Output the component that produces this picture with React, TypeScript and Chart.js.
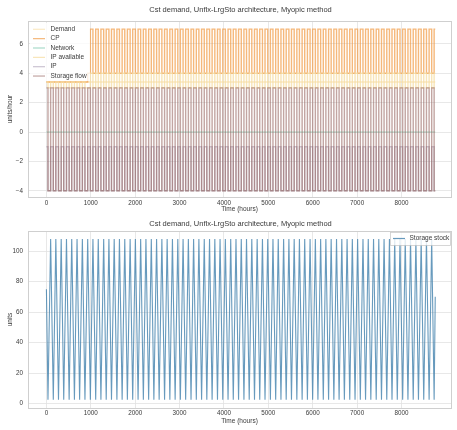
import { useEffect, useRef } from "react";
import { Chart, registerables } from "chart.js";

Chart.register(...registerables);

// ---------------- data ----------------
const chartTitle = "Cst demand, Unflx-LrgSto architecture, Myopic method";
const xTickValues = [0, 1000, 2000, 3000, 4000, 5000, 6000, 7000, 8000];
const topYTicks = [-4, -2, 0, 2, 4, 6];
const bottomYTicks = [0, 20, 40, 60, 80, 100];

// hours at which the storage switches between discharging and charging
const turnHours = [
  0, 35, 95, 155, 212, 272, 333, 390, 452, 512, 570, 631, 690, 748, 810, 868, 930, 990, 1048, 1110,
  1168, 1228, 1290, 1347, 1408, 1466, 1527, 1588, 1645, 1706, 1765, 1824, 1886, 1944, 2004, 2065,
  2123, 2184, 2242, 2303, 2363, 2421, 2482, 2540, 2601, 2662, 2720, 2781, 2839, 2900, 2960, 3018,
  3079, 3137, 3198, 3258, 3316, 3377, 3435, 3496, 3556, 3614, 3675, 3733, 3794, 3854, 3912, 3973,
  4031, 4092, 4152, 4210, 4271, 4329, 4390, 4450, 4508, 4569, 4627, 4688, 4748, 4806, 4867, 4925,
  4986, 5046, 5104, 5165, 5223, 5284, 5344, 5402, 5463, 5521, 5582, 5642, 5700, 5761, 5819, 5880,
  5940, 5998, 6059, 6117, 6178, 6238, 6296, 6357, 6415, 6476, 6536, 6594, 6655, 6713, 6774, 6834,
  6892, 6953, 7011, 7072, 7132, 7190, 7251, 7309, 7370, 7430, 7488, 7549, 7607, 7668, 7728, 7786,
  7847, 7905, 7966, 8026, 8084, 8145, 8203, 8264, 8324, 8382, 8443, 8501, 8562, 8622, 8680, 8735,
  8760,
];

// storage stock (units)
const stockStart = 75;
const stockLow = 2.5;
const stockHigh = 108;
const stockEnd = 70;

// flows (units/hour): [discharging level, charging level]
const cpStartHour = 950;
const demandLevel = 3.4;
const networkLevel = 0;
const cpEarlyLevels = [3.4, 3.4];
const cpLevels = [4, 7];
const ipAvailEarlyLevels = [3.4, 3];
const ipAvailLevels = [3, 4];
const ipLevels = [-1, -4];
const storageFlowLevels = [3, -4];

// ---------------- helpers ----------------
const FONT = "'Liberation Sans', Arial, Helvetica, sans-serif";
const TEXT = "#3a3a3a";
const GRID = "#e2e2e2";
const FRAME = "#cfcfcf";

const colors = {
  demand: "rgba(245, 215, 150, 0.55)",
  cp: "rgba(240, 150, 60, 0.68)",
  network: "rgba(110, 195, 165, 0.6)",
  ipAvail: "rgba(246, 220, 160, 0.75)",
  ip: "rgba(125, 105, 140, 0.4)",
  flow: "rgba(150, 100, 95, 0.58)",
  stock: "rgba(60, 125, 170, 0.78)",
};

function squareWave(levels: number[], early?: { until: number; levels: number[] }) {
  const pts: { x: number; y: number }[] = [];
  for (let i = 0; i < turnHours.length - 1; i++) {
    const a = turnHours[i];
    const b = turnHours[i + 1];
    const phase = i % 2; // 0 = discharging, 1 = charging
    const lv = early && b <= early.until ? early.levels : levels;
    pts.push({ x: a, y: lv[phase] }, { x: b, y: lv[phase] });
  }
  return pts;
}

function constantLine(v: number) {
  return [
    { x: turnHours[0], y: v },
    { x: turnHours[turnHours.length - 1], y: v },
  ];
}

function stockPoints() {
  return turnHours.map((h, i) => {
    let y: number;
    if (i === 0) y = stockStart;
    else if (i === turnHours.length - 1) y = stockEnd;
    else y = i % 2 === 1 ? stockLow : stockHigh;
    return { x: h, y };
  });
}

const minusFmt = (v: number) => (v < 0 ? "\u2212" + Math.abs(v) : String(v));

type LegendSpec = {
  x: number;
  y: number;
  w: number;
  h: number;
  rowY: number;
  rowStep: number;
  swatchX0: number;
  swatchX1: number;
  textX: number;
  border: boolean;
  items: { label: string; color: string }[];
};

function decorPlugin(titleY: number, legend: LegendSpec) {
  return {
    id: "decor",
    beforeDatasetsDraw(chart: any) {
      const { ctx, chartArea: a } = chart;
      ctx.save();
      ctx.strokeStyle = FRAME;
      ctx.lineWidth = 1;
      ctx.strokeRect(Math.round(a.left) + 0.5, Math.round(a.top) + 0.5, Math.round(a.right - a.left), Math.round(a.bottom - a.top));
      ctx.restore();
    },
    afterDraw(chart: any) {
      const { ctx, chartArea: a } = chart;
      ctx.save();
      ctx.fillStyle = TEXT;
      ctx.font = `7.5px ${FONT}`;
      ctx.textAlign = "center";
      ctx.textBaseline = "middle";
      ctx.fillText(chartTitle, (a.left + a.right) / 2 + 1, titleY);
      ctx.fillStyle = "rgba(255,255,255,0.8)";
      ctx.fillRect(legend.x, legend.y, legend.w, legend.h);
      if (legend.border) {
        ctx.strokeStyle = "rgba(200,200,200,0.9)";
        ctx.lineWidth = 0.8;
        ctx.strokeRect(legend.x + 0.5, legend.y + 0.5, legend.w, legend.h);
      }
      ctx.font = `6.5px ${FONT}`;
      ctx.textAlign = "left";
      legend.items.forEach((it, k) => {
        const yy = legend.rowY + k * legend.rowStep;
        ctx.strokeStyle = it.color;
        ctx.lineWidth = 1.2;
        ctx.beginPath();
        ctx.moveTo(legend.swatchX0, yy);
        ctx.lineTo(legend.swatchX1, yy);
        ctx.stroke();
        ctx.fillStyle = TEXT;
        ctx.fillText(it.label, legend.textX, yy);
      });
      ctx.restore();
    },
  };
}

function xScale(height: number, tickPad: number, titlePadBottom: number) {
  return {
    type: "linear" as const,
    min: -415,
    max: 9115,
    afterBuildTicks: (s: any) => {
      s.ticks = xTickValues.map((v) => ({ value: v }));
    },
    afterFit: (s: any) => {
      s.height = height;
    },
    grid: { color: GRID, lineWidth: 0.8, drawTicks: false },
    border: { display: false },
    ticks: {
      padding: tickPad,
      color: TEXT,
      font: { size: 6.3, family: FONT },
      maxRotation: 0,
      autoSkip: false,
      callback: (v: any) => String(v),
    },
    title: {
      display: true,
      text: "Time (hours)",
      color: TEXT,
      font: { size: 6.5, family: FONT },
      padding: { top: 0, bottom: titlePadBottom },
    },
  };
}

function yScale(min: number, max: number, tickVals: number[], title: string) {
  return {
    type: "linear" as const,
    min,
    max,
    afterBuildTicks: (s: any) => {
      s.ticks = tickVals.map((v) => ({ value: v }));
    },
    afterFit: (s: any) => {
      s.width = 28;
    },
    grid: { color: GRID, lineWidth: 0.8, drawTicks: false },
    border: { display: false },
    ticks: {
      padding: 5,
      color: TEXT,
      font: { size: 6.3, family: FONT },
      callback: (v: any) => minusFmt(Number(v)),
    },
    title: {
      display: true,
      text: title,
      color: TEXT,
      font: { size: 6.5, family: FONT },
      padding: { top: 6, bottom: 0 },
    },
  };
}

const lineDs = (label: string, data: any[], color: string, order: number, width = 1.4) => ({
  label,
  data,
  borderColor: color,
  backgroundColor: color,
  borderWidth: width,
  pointRadius: 0,
  fill: false,
  tension: 0,
  order,
});

function topConfig(): any {
  const datasets = [
    lineDs("Demand", constantLine(demandLevel), colors.demand, 6),
    lineDs("CP", squareWave(cpLevels, { until: cpStartHour, levels: cpEarlyLevels }), colors.cp, 5),
    lineDs("Network", constantLine(networkLevel), colors.network, 4, 1),
    lineDs("IP available", squareWave(ipAvailLevels, { until: cpStartHour, levels: ipAvailEarlyLevels }), colors.ipAvail, 3),
    lineDs("IP", squareWave(ipLevels), colors.ip, 2),
    lineDs("Storage flow", squareWave(storageFlowLevels), colors.flow, 1),
  ];
  return {
    type: "line",
    data: { datasets },
    options: {
      responsive: false,
      animation: false,
      events: [],
      parsing: false,
      layout: { padding: { left: 0, right: 6, top: 21, bottom: 0 } },
      plugins: { legend: { display: false }, tooltip: { enabled: false }, title: { display: false } },
      scales: {
        x: xScale(18, 2, 2),
        y: yScale(-4.42, 7.55, topYTicks, "units/hour"),
      },
    },
    plugins: [
      decorPlugin(9.5, {
        x: 30,
        y: 23,
        w: 60,
        h: 58,
        rowY: 29.3,
        rowStep: 9.35,
        swatchX0: 33,
        swatchX1: 45,
        textX: 50.5,
        border: false,
        items: datasets.map((d) => ({ label: d.label, color: d.borderColor })),
      }),
    ],
  };
}

function bottomConfig(): any {
  const datasets = [lineDs("Storage stock", stockPoints(), colors.stock, 1, 1.1)];
  return {
    type: "line",
    data: { datasets },
    options: {
      responsive: false,
      animation: false,
      events: [],
      parsing: false,
      layout: { padding: { left: 0, right: 6, top: 16, bottom: 0 } },
      plugins: { legend: { display: false }, tooltip: { enabled: false }, title: { display: false } },
      scales: {
        x: xScale(22, 1, 5),
        y: yScale(-2.9, 113.2, bottomYTicks, "units"),
      },
    },
    plugins: [
      decorPlugin(9, {
        x: 390,
        y: 17,
        w: 60,
        h: 13,
        rowY: 23.5,
        rowStep: 9,
        swatchX0: 393,
        swatchX1: 405,
        textX: 409.5,
        border: true,
        items: [{ label: "Storage stock", color: colors.stock }],
      }),
    ],
  };
}

export default function App() {
  const topRef = useRef<HTMLCanvasElement>(null);
  const botRef = useRef<HTMLCanvasElement>(null);

  useEffect(() => {
    const c1 = new Chart(topRef.current as HTMLCanvasElement, topConfig());
    const c2 = new Chart(botRef.current as HTMLCanvasElement, bottomConfig());
    return () => {
      c1.destroy();
      c2.destroy();
    };
  }, []);

  return (
    <div style={{ position: "absolute", left: 0, top: 0, width: 457, height: 430, background: "#fff" }}>
      <canvas
        ref={topRef}
        width={457}
        height={215}
        style={{ position: "absolute", left: 0, top: 0, width: 457, height: 215, display: "block" }}
      />
      <canvas
        ref={botRef}
        width={457}
        height={215}
        style={{ position: "absolute", left: 0, top: 215, width: 457, height: 215, display: "block" }}
      />
    </div>
  );
}
